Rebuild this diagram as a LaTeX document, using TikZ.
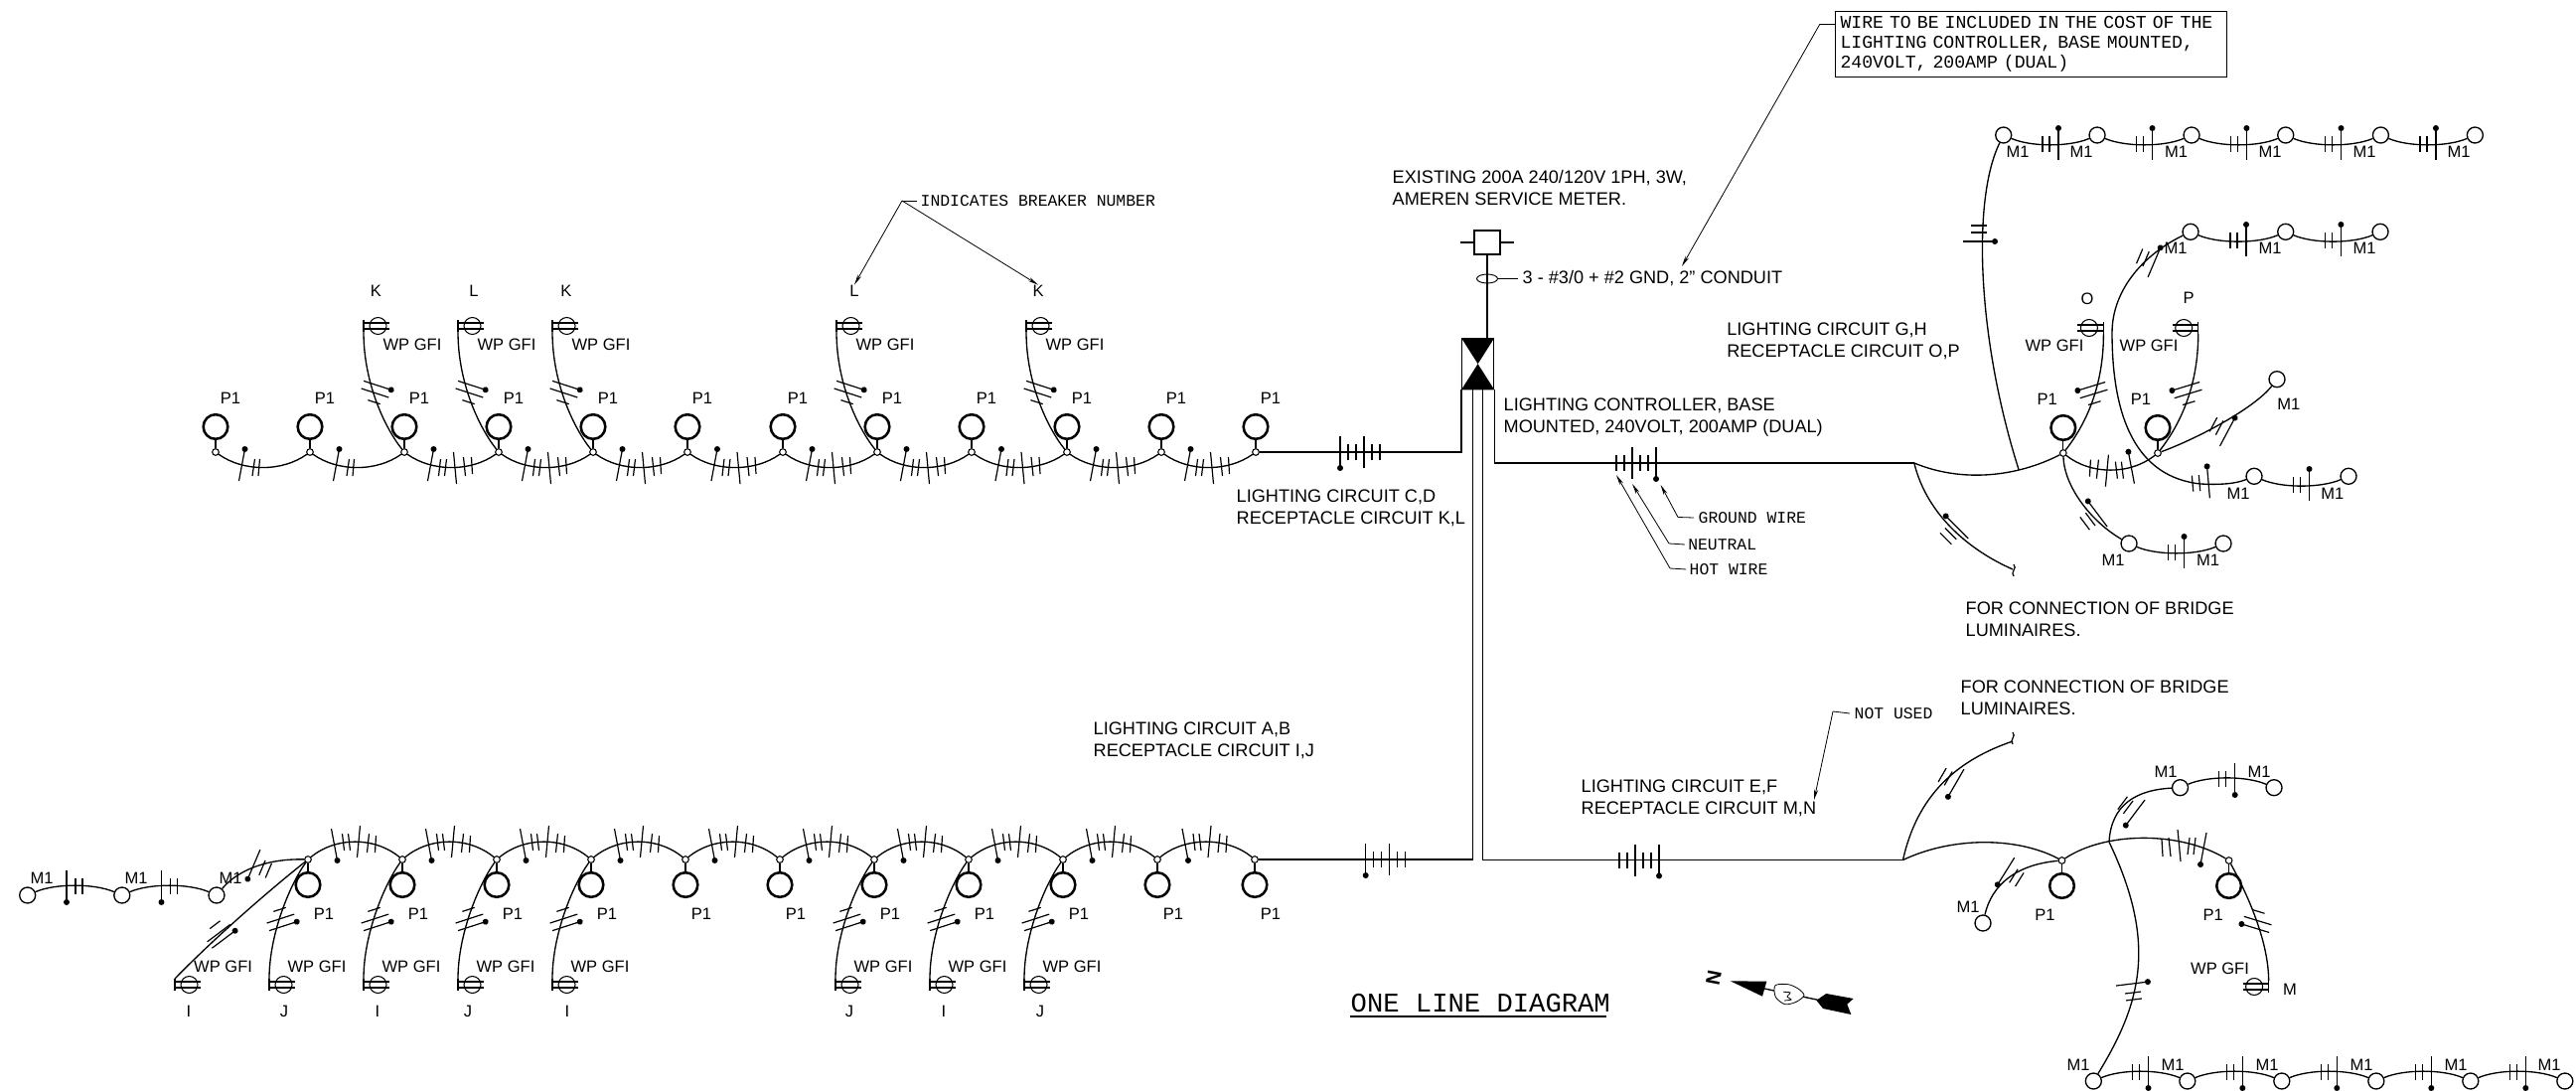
\documentclass[tikz,border=0pt]{standalone}
\usepackage{fontspec}
\setmainfont{Liberation Sans}
\setmonofont{Liberation Mono}
\usetikzlibrary{arrows.meta,shapes.geometric}

\tikzset{every picture/.style={line width=1pt},
  every pic/.style={yscale=-1},
  jct/.style={circle,draw,fill=white,inner sep=0pt,minimum size=5pt,line width=.8pt},
  bulb/.style={circle,draw,inner sep=0pt,minimum size=18.5pt,line width=1.9pt},
  lamp/.style={circle,draw,inner sep=0pt,minimum size=12pt},
  rcp/.style={circle,draw,inner sep=0pt,minimum size=12.75pt,line width=.8pt},
  lbl/.style={inner sep=0pt,align=left,font=\fontsize{12.4}{16.5}\selectfont},
  lbw/.style={inner sep=0pt,align=left,anchor=west,font=\fontsize{13.6}{16.5}\selectfont},
  cad/.style={inner sep=0pt,align=left,font=\ttfamily\fontsize{12.3}{15}\selectfont},
  barb/.style={line width=.9pt},
  ptr/.style={-{Stealth[length=8pt,width=3pt]},line width=.6pt},
  dip/.style={to path={.. controls +(28,#1) and +(-28,#1) .. (\tikztotarget)}},
  branchup/.style={to path={.. controls +(-20,-25) and +(0,51) .. (\tikztotarget)}},
  branchdown/.style={to path={.. controls +(-18,25) and +(0,-45) .. (\tikztotarget)}},
  poleup/.pic={
    \node[jct] (-j) at (0,0) {};
    \node[bulb] (-c) at (0,-25.5) {};
    \draw (-j) -- (-c);
    \node[lbl] (-t) at (#1,-54) {P1};
  },
  poledown/.pic={
    \node[jct] (-j) at (0,0) {};
    \node[bulb] (-c) at (0,25.5) {};
    \draw (-j) -- (-c);
    \node[lbl] (-t) at (#1,55) {P1};
  },
  recep/.pic={
    \coordinate (-n) at (0,-6);
    \coordinate (-s) at (0,6);
    \node[rcp] (-c) at (14.5,0) {};
    \draw[barb] (-n) -- (-s);
    \draw[barb] (0,-3) -- (26,-3);
    \draw[barb] (0,3) -- (26,3);
  },
  wireleft/.pic={
    \draw[barb] (-18,-18) -- (-24,14);
    \fill (-18,-18) circle (3);
    \draw[barb] (-8,-8) -- (-10.5,9);
    \draw[barb] (-3,-8) -- (-4.5,9);
  },
  wirefour/.pic={
    \draw[barb] (-18,-18) -- (-24,14);
    \fill (-18,-18) circle (3);
    \draw[barb] (-11,-8) -- (-13,9);
    \draw[barb] (-5,-8) -- (-7,9);
    \draw[barb] (2,-15) -- (5,17);
    \draw[barb] (12,-10) -- (14,9);
    \draw[barb] (20,-10) -- (21,7);
  },
  wireflat/.pic={
    \draw[barb] (-20,-16) -- (-20,16);
    \fill (-20,16) circle (3);
    \draw[barb] (-12,-8) -- (-12,8);
    \draw[barb] (-4,-8) -- (-4,8);
    \draw[barb] (4,-16) -- (4,16);
    \draw[barb] (12,-8) -- (12,8);
    \draw[barb] (20,-8) -- (20,8);
  },
  wiretwo/.pic={
    \draw[barb] (8,-16) -- (8,16);
    \fill (8,-16) circle (3);
    \draw[barb] (-8,-8) -- (-8,8);
    \draw[barb] (-1,-8) -- (-1,8);
  },
  wirebranch/.pic={
    \draw[barb] (-13,-8) -- (16,-8);
    \fill (16,-8) circle (3);
    \draw[barb] (-13,0) -- (16,0);
    \draw[barb] (-3,9) -- (10,9);
  },
  wireend/.pic={
    \draw[barb] (0,-6) .. controls (4,-2) and (-4,2) .. (0,6);
  }
}

\begin{document}
\begin{tikzpicture}[x=0.75pt,y=0.75pt,yscale=-1,xscale=1]
\useasboundingbox (0,0) rectangle (2593,1098);

%Service and controller
\node[draw,inner sep=0pt,minimum width=19.5pt,minimum height=18pt,line width=.8pt] (meter) at (1497,244) {};
\draw[barb] (meter.west) -- +(-13,0);
\draw[barb] (meter.east) -- +(13,0);
\node[ellipse,draw,inner sep=0pt,minimum width=15.75pt,minimum height=6.75pt,line width=.7pt] (cond) at (1497,280.5) {};
\node[draw,inner sep=0pt,minimum width=24pt,minimum height=38.25pt] (ctrl) at (1487.6,366.2) {};
\fill (ctrl.north west) -- (ctrl.north east) -- (ctrl.center) -- cycle;
\fill (ctrl.south west) -- (ctrl.south east) -- (ctrl.center) -- cycle;
\draw (meter.south) -- (meter.south |- ctrl.north);
\coordinate (vl) at (1482.3,391.7);
\coordinate (vr) at (1492.7,391.7);

%Top row
\pic (t1) at (217,455) {poleup=15};
\pic (t2) at (312,455) {poleup=15};
\pic (t3) at (407,455) {poleup=15};
\pic (t4) at (502,455) {poleup=15};
\pic (t5) at (597,455) {poleup=15};
\pic (t6) at (692,455) {poleup=15};
\pic (t7) at (788,455) {poleup=15};
\pic (t8) at (883,455) {poleup=15};
\pic (t9) at (978,455) {poleup=15};
\pic (t10) at (1074,455) {poleup=15};
\pic (t11) at (1169,455) {poleup=15};
\pic (t12) at (1264,455) {poleup=15};
\draw (t1-j) to[dip=20] (t2-j);
\draw (t2-j) to[dip=20] (t3-j);
\draw (t3-j) to[dip=20] (t4-j);
\draw (t4-j) to[dip=20] (t5-j);
\draw (t5-j) to[dip=20] (t6-j);
\draw (t6-j) to[dip=20] (t7-j);
\draw (t7-j) to[dip=20] (t8-j);
\draw (t8-j) to[dip=20] (t9-j);
\draw (t9-j) to[dip=20] (t10-j);
\draw (t10-j) to[dip=20] (t11-j);
\draw (t11-j) to[dip=20] (t12-j);
\pic at (264.5,470) {wireleft};
\pic at (359.5,470) {wireleft};
\pic at (454.5,470) {wirefour};
\pic at (549.5,470) {wirefour};
\pic at (644.5,470) {wirefour};
\pic at (740,470) {wirefour};
\pic at (835.5,470) {wirefour};
\pic at (930.5,470) {wirefour};
\pic at (1026,470) {wirefour};
\pic at (1121.5,470) {wirefour};
\pic at (1216.5,470) {wirefour};
\draw (t12-j) -- (ctrl.west |- t12-j) -- (ctrl.south west);
\pic at (1369,455) {wireflat};

%Top row receptacles
\pic (k1) at (366,328) {recep};
\pic (l1) at (461,328) {recep};
\pic (k2) at (556,328) {recep};
\pic (l2) at (842,328) {recep};
\pic (k3) at (1033,328) {recep};
\draw (t3-j) to[branchup] (k1-s);
\draw (t4-j) to[branchup] (l1-s);
\draw (t5-j) to[branchup] (k2-s);
\draw (t8-j) to[branchup] (l2-s);
\draw (t10-j) to[branchup] (k3-s);
\pic[rotate=-18] at (376,395) {wirebranch};
\pic[rotate=-18] at (471,395) {wirebranch};
\pic[rotate=-18] at (566,395) {wirebranch};
\pic[rotate=-18] at (852,395) {wirebranch};
\pic[rotate=-18] at (1043,395) {wirebranch};
% Text Node
\node[lbl] (k1t) at (378.5,293) {K};
\node[lbl] (l1t) at (477,293) {L};
\node[lbl] (k2t) at (570,293) {K};
\node[lbl] (l2t) at (860,293) {L};
\node[lbl] (k3t) at (1045,293) {K};
\node[lbl] (k1w) at (415,347) {WP GFI};
\node[lbl] (l1w) at (510,347) {WP GFI};
\node[lbl] (k2w) at (605,347) {WP GFI};
\node[lbl] (l2w) at (891,347) {WP GFI};
\node[lbl] (k3w) at (1082,347) {WP GFI};

%Bottom row
\pic (b1) at (310,865) {poledown=16};
\pic (b2) at (405,865) {poledown=16};
\pic (b3) at (500,865) {poledown=16};
\pic (b4) at (595,865) {poledown=16};
\pic (b5) at (690,865) {poledown=16};
\pic (b6) at (785,865) {poledown=16};
\pic (b7) at (880,865) {poledown=16};
\pic (b8) at (975,865) {poledown=16};
\pic (b9) at (1070,865) {poledown=16};
\pic (b10) at (1165,865) {poledown=16};
\pic (b11) at (1263,865) {poledown=16};
\draw (b1-j) to[dip=-23] (b2-j);
\draw (b2-j) to[dip=-23] (b3-j);
\draw (b3-j) to[dip=-23] (b4-j);
\draw (b4-j) to[dip=-23] (b5-j);
\draw (b5-j) to[dip=-23] (b6-j);
\draw (b6-j) to[dip=-23] (b7-j);
\draw (b7-j) to[dip=-23] (b8-j);
\draw (b8-j) to[dip=-23] (b9-j);
\draw (b9-j) to[dip=-23] (b10-j);
\draw (b10-j) to[dip=-23] (b11-j);
\pic[yscale=-1] at (357.5,848) {wirefour};
\pic[yscale=-1] at (452.5,848) {wirefour};
\pic[yscale=-1] at (547.5,848) {wirefour};
\pic[yscale=-1] at (642.5,848) {wirefour};
\pic[yscale=-1] at (737.5,848) {wirefour};
\pic[yscale=-1] at (832.5,848) {wirefour};
\pic[yscale=-1] at (927.5,848) {wirefour};
\pic[yscale=-1] at (1022.5,848) {wirefour};
\pic[yscale=-1] at (1117.5,848) {wirefour};
\pic[yscale=-1] at (1214,848) {wirefour};
\draw (vl) -- (vl |- b11-j) -- (b11-j);
\pic at (1394.7,865) {wireflat};

%Left chain
\node[lamp] (a1) at (27.7,901) {};
\node[lamp] (a2) at (122.8,901) {};
\node[lamp] (a3) at (218,901) {};
\draw (a1) to[dip=-12] (a2);
\draw (a2) to[dip=-12] (a3);
\draw (a3) .. controls (240,875) and (270,864) .. (b1-j);
\pic[rotate=180] at (75,892) {wiretwo};
\pic[rotate=180] at (170.5,892) {wiretwo};
\pic[rotate=157] at (263,873) {wiretwo};
\node[lbl] (a1t) at (42,884) {M1};
\node[lbl] (a2t) at (137,884) {M1};
\node[lbl] (a3t) at (232,884) {M1};

%Bottom row receptacles
\pic (i1) at (176,991) {recep};
\pic (j1) at (271,991) {recep};
\pic (i2) at (366,991) {recep};
\pic (j2) at (461,991) {recep};
\pic (i3) at (556,991) {recep};
\pic (j3) at (841,991) {recep};
\pic (i4) at (936,991) {recep};
\pic (j4) at (1031,991) {recep};
\draw (b1-j) .. controls (260,905) and (210,950) .. (i1-n);
\draw (b1-j) to[branchdown] (j1-n);
\draw (b2-j) to[branchdown] (i2-n);
\draw (b3-j) to[branchdown] (j2-n);
\draw (b4-j) to[branchdown] (i3-n);
\draw (b7-j) to[branchdown] (j3-n);
\draw (b8-j) to[branchdown] (i4-n);
\draw (b9-j) to[branchdown] (j4-n);
\pic[rotate=37,yscale=-1] at (219,940) {wirebranch};
\pic[rotate=18,yscale=-1] at (281,925) {wirebranch};
\pic[rotate=18,yscale=-1] at (376,925) {wirebranch};
\pic[rotate=18,yscale=-1] at (471,925) {wirebranch};
\pic[rotate=18,yscale=-1] at (566,925) {wirebranch};
\pic[rotate=18,yscale=-1] at (851,925) {wirebranch};
\pic[rotate=18,yscale=-1] at (946,925) {wirebranch};
\pic[rotate=18,yscale=-1] at (1041,925) {wirebranch};
% Text Node
\node[lbl] (i1t) at (190,1018) {I};
\node[lbl] (j1t) at (286,1018) {J};
\node[lbl] (i2t) at (380,1018) {I};
\node[lbl] (j2t) at (471,1018) {J};
\node[lbl] (i3t) at (571,1018) {I};
\node[lbl] (j3t) at (855,1018) {J};
\node[lbl] (i4t) at (950,1018) {I};
\node[lbl] (j4t) at (1047,1018) {J};
\node[lbl] (i1w) at (224.6,973) {WP GFI};
\node[lbl] (j1w) at (319,973) {WP GFI};
\node[lbl] (i2w) at (414,973) {WP GFI};
\node[lbl] (j2w) at (509,973) {WP GFI};
\node[lbl] (i3w) at (604,973) {WP GFI};
\node[lbl] (j3w) at (889,973) {WP GFI};
\node[lbl] (i4w) at (984,973) {WP GFI};
\node[lbl] (j4w) at (1079,973) {WP GFI};

%Upper right group
\coordinate (fa) at (1926.8,466);
\coordinate (fc) at (2032,472.6);
\coordinate (fd) at (2026,573);
\pic (g1) at (2076.8,456) {poleup=-16};
\pic (g2) at (2172,456) {poleup=-17};
\draw (ctrl.south east) -- (ctrl.south east |- fa) -- (fa);
\pic[xscale=-1] at (1647,466) {wireflat};
\draw (fa) .. controls (1975,486) and (2030,480) .. (g1-j);
\draw (g1-j) to[dip=22] (g2-j);
\pic[xscale=-1] at (2124.4,472.7) {wirefour};
\draw (fa) .. controls (1940,520) and (1985,555) .. (fd);
\pic at (2027,574) {wireend};
\pic[rotate=45] at (1964.3,536.4) {wiretwo};
% chain along the top
\node[lamp] (c1) at (2016.7,136) {};
\node[lamp] (c2) at (2111,136) {};
\node[lamp] (c3) at (2206,136) {};
\node[lamp] (c4) at (2300.7,136) {};
\node[lamp] (c5) at (2396.4,136) {};
\node[lamp] (c6) at (2491.3,136) {};
\draw (c1) to[dip=12] (c2);
\draw (c2) to[dip=12] (c3);
\draw (c3) to[dip=12] (c4);
\draw (c4) to[dip=12] (c5);
\draw (c5) to[dip=12] (c6);
\pic at (2064,145) {wiretwo};
\pic at (2158.5,145) {wiretwo};
\pic at (2253.4,145) {wiretwo};
\pic at (2348.5,145) {wiretwo};
\pic at (2443.9,145) {wiretwo};
\draw (c1) .. controls (1985,200) and (1990,340) .. (fc);
\pic[rotate=-90] at (1992,235) {wiretwo};
\node[lbl] (c1t) at (2031,153) {M1};
\node[lbl] (c2t) at (2095,153) {M1};
\node[lbl] (c3t) at (2190.5,153) {M1};
\node[lbl] (c4t) at (2285,153) {M1};
\node[lbl] (c5t) at (2380,153) {M1};
\node[lbl] (c6t) at (2475,153) {M1};
% second chain and the bow below it
\node[lamp] (n1) at (2205,233.3) {};
\node[lamp] (n2) at (2300.7,233.3) {};
\node[lamp] (n3) at (2396,233.3) {};
\node[lamp] (n4) at (2269,479.3) {};
\node[lamp] (n5) at (2364,479.3) {};
\node[lamp] (n6) at (2292,381.7) {};
\node[lamp] (n7) at (2143,547) {};
\node[lamp] (n8) at (2238,547) {};
\coordinate (bowa) at (2126,335);
\coordinate (bowb) at (2215,487);
\draw (n1) to[dip=12] (n2);
\draw (n2) to[dip=12] (n3);
\draw (n4) to[dip=12] (n5);
\draw (n7) to[dip=12] (n8);
\draw (n1) .. controls (2160,255) and (2126,290) .. (bowa) .. controls (2126,420) and (2150,480) .. (bowb) .. controls (2235,488) and (2250,487) .. (n4);
\draw (g2-j) .. controls (2215,440) and (2270,410) .. (n6);
\draw (g1-j) .. controls (2078,490) and (2105,525) .. (n7);
\pic at (2253,242) {wiretwo};
\pic at (2348.4,242) {wiretwo};
\pic at (2316.5,488) {wiretwo};
\pic at (2190.5,556) {wiretwo};
\pic[rotate=-23] at (2161,261) {wiretwo};
\pic[rotate=5] at (2215,486) {wiretwo};
\pic[rotate=-28] at (2235,431) {wiretwo};
\pic[rotate=37] at (2105,522) {wiretwo};
\node[lbl] (n1t) at (2190,250) {M1};
\node[lbl] (n2t) at (2285,250) {M1};
\node[lbl] (n3t) at (2380,250) {M1};
\node[lbl] (n4t) at (2253,496.7) {M1};
\node[lbl] (n5t) at (2347.8,496.7) {M1};
\node[lbl] (n6t) at (2303.7,407) {M1};
\node[lbl] (n7t) at (2127,564) {M1};
\node[lbl] (n8t) at (2222.6,564) {M1};
% receptacles O and P
\pic[xscale=-1] (r1) at (2117.4,330) {recep};
\pic[xscale=-1] (r2) at (2212.7,330) {recep};
\draw (g1-j) .. controls (2105,420) and (2117.4,380) .. (r1-s);
\draw (g2-j) .. controls (2200,420) and (2212.7,380) .. (r2-s);
\pic[rotate=17,xscale=-1] at (2109,396) {wirebranch};
\pic[rotate=17,xscale=-1] at (2204,396) {wirebranch};
\node[lbl] (r1t) at (2101,301) {O};
\node[lbl] (r2t) at (2203,300) {P};
\node[lbl] (r1w) at (2068,348) {WP GFI};
\node[lbl] (r2w) at (2163,348) {WP GFI};

%Lower right group
\coordinate (fb) at (1915.5,865.5);
\coordinate (hc) at (2123,847.4);
\coordinate (he) at (2026,746);
\pic (h1) at (2075.5,866) {poledown=-17};
\pic (h2) at (2243.6,866) {poledown=-16};
\draw (vr) -- (vr |- fb) -- (fb);
\pic[xscale=-1] at (1650,865.5) {wireflat};
\draw (fb) .. controls (1965,842) and (2030,842) .. (h1-j);
\draw (h1-j) .. controls (2120,836.5) and (2195,836.5) .. (h2-j);
\pic[rotate=180] at (2197,852) {wirefour};
\draw (fb) .. controls (1930,800) and (1970,765) .. (he);
\pic at (2026,743) {wireend};
\pic[rotate=-30,yscale=-1] at (1962,784) {wiretwo};
\node[lamp] (q1) at (1996,929) {};
\node[lamp] (q2) at (2194.5,792.7) {};
\node[lamp] (q3) at (2289,792.7) {};
\draw (h1-j) .. controls (2030,870) and (2005,890) .. (q1);
\draw (hc) .. controls (2125,810) and (2150,795) .. (q2);
\draw (q2) to[dip=-12] (q3);
\pic[rotate=148] at (2026,881) {wiretwo};
\pic[rotate=-37,yscale=-1] at (2143,813) {wiretwo};
\pic[yscale=-1] at (2241.7,784) {wiretwo};
\node[lbl] (q1t) at (1981,913) {M1};
\node[lbl] (q2t) at (2180,776.7) {M1};
\node[lbl] (q3t) at (2274,776.7) {M1};
% chain along the bottom
\node[lamp] (e1) at (2107.3,1088) {};
\node[lamp] (e2) at (2201.8,1088) {};
\node[lamp] (e3) at (2296.8,1088) {};
\node[lamp] (e4) at (2391.8,1088) {};
\node[lamp] (e5) at (2486.8,1088) {};
\node[lamp] (e6) at (2581.8,1088) {};
\draw (e1) to[dip=-12] (e2);
\draw (e2) to[dip=-12] (e3);
\draw (e3) to[dip=-12] (e4);
\draw (e4) to[dip=-12] (e5);
\draw (e5) to[dip=-12] (e6);
\pic[yscale=-1] at (2154.5,1079) {wiretwo};
\pic[yscale=-1] at (2249.3,1079) {wiretwo};
\pic[yscale=-1] at (2344.3,1079) {wiretwo};
\pic[yscale=-1] at (2439.3,1079) {wiretwo};
\pic[yscale=-1] at (2534.3,1079) {wiretwo};
\draw (hc) .. controls (2172,950) and (2155,1010) .. (e1);
\pic[rotate=97,yscale=-1] at (2147,998) {wiretwo};
\node[lbl] (e1t) at (2092,1072) {M1};
\node[lbl] (e2t) at (2187,1072) {M1};
\node[lbl] (e3t) at (2282,1072) {M1};
\node[lbl] (e4t) at (2377,1072) {M1};
\node[lbl] (e5t) at (2472,1072) {M1};
\node[lbl] (e6t) at (2566,1072) {M1};
% receptacle M
\pic[xscale=-1] (rm) at (2283.6,993) {recep};
\draw (h2-j) .. controls (2265,905) and (2283.6,950) .. (rm-n);
\pic[rotate=163] at (2274,927) {wirebranch};
\node[lbl] (rmt) at (2305,996) {M};
\node[lbl] (rmw) at (2234.5,975) {WP GFI};

% Text Node
\node[lbw] (svc) at (1401,189) {EXISTING 200A 240/120V 1PH, 3W,\\AMEREN SERVICE METER.};
% Text Node
\node[lbw] (wire) at (1532,280.5) {3 - \#3/0 + \#2 GND, 2" CONDUIT};
% Text Node
\node[lbw] (cgh) at (1737.6,343) {LIGHTING CIRCUIT G,H\\RECEPTACLE CIRCUIT O,P};
% Text Node
\node[lbw] (ctl) at (1513,419.6) {LIGHTING CONTROLLER, BASE\\MOUNTED, 240VOLT, 200AMP (DUAL)};
% Text Node
\node[lbw] (ccd) at (1244,511) {LIGHTING CIRCUIT C,D\\RECEPTACLE CIRCUIT K,L};
% Text Node
\node[lbw] (cab) at (1100,745.7) {LIGHTING CIRCUIT A,B\\RECEPTACLE CIRCUIT I,J};
% Text Node
\node[lbw] (cef) at (1591,803.5) {LIGHTING CIRCUIT E,F\\RECEPTACLE CIRCUIT M,N};
% Text Node
\node[lbw] (bra) at (1978,623.5) {FOR CONNECTION OF BRIDGE\\LUMINAIRES.};
% Text Node
\node[lbw] (brb) at (1973,702.5) {FOR CONNECTION OF BRIDGE\\LUMINAIRES.};
% Text Node
\node[cad,anchor=west] (ibn) at (926,202) {INDICATES BREAKER NUMBER};
% Text Node
\node[cad,anchor=west] (nus) at (1866,718) {NOT USED};
% Text Node
\node[cad,anchor=west] (gnd) at (1709,521) {GROUND WIRE};
% Text Node
\node[cad,anchor=west] (neu) at (1698.6,548) {NEUTRAL};
% Text Node
\node[cad,anchor=west] (hot) at (1700,573) {HOT WIRE};
% Text Node
\node[cad,draw,line width=.8pt,inner sep=4pt,text width=288pt,minimum height=49.6pt,anchor=center,font=\ttfamily\fontsize{13.6}{15}\selectfont] (note) at (2044.5,44.6) {WIRE TO BE INCLUDED IN THE COST OF THE\\LIGHTING CONTROLLER, BASE MOUNTED,\\240VOLT, 200AMP (DUAL)};
% Text Node
\node[inner sep=0pt,font=\ttfamily\fontsize{20.4}{24}\selectfont,anchor=west] (title) at (1359,1010) {ONE LINE DIAGRAM};

%Leaders
\coordinate (nka) at (1847,24);
\coordinate (nkb) at (1832,24);
\coordinate (nkc) at (1693,268);
\draw[line width=.6pt] (nka) -- (nkb);
\draw[ptr] (nkb) -- (nkc);
\draw[line width=.6pt] (cond.east) -- ([xshift=-3pt]wire.west);
\coordinate (ika) at (908,202);
\draw[line width=.6pt] ([xshift=-2pt]ibn.west) -- (ika);
\draw[ptr] (ika) -- (l2t.north);
\draw[ptr] (ika) -- (k3t.north);
\coordinate (usa) at (1845,716);
\coordinate (usb) at (1826,805);
\draw[line width=.6pt] ([xshift=-3pt]nus.west) -- (usa);
\draw[ptr] (usa) -- (usb);
\coordinate (gna) at (1689,520.5);
\coordinate (gnb) at (1671.6,488);
\draw[line width=.6pt] ([xshift=-3pt]gnd.west) -- (gna);
\draw[ptr] (gna) -- (gnb);
\coordinate (nea) at (1680,547);
\coordinate (neb) at (1643,487);
\draw[line width=.6pt] ([xshift=-2pt]neu.west) -- (nea);
\draw[ptr] (nea) -- (neb);
\coordinate (hoa) at (1681,572);
\coordinate (hob) at (1627,478);
\draw[line width=.6pt] ([xshift=-2pt]hot.west) -- (hoa);
\draw[ptr] (hoa) -- (hob);
\coordinate (ula) at (1359,1022.7);
\coordinate (ulb) at (1617,1022.7);
\draw[line width=1.6pt] (ula) -- (ulb);

%North arrow
\node[inner sep=0pt,rotate=79,font=\bfseries\fontsize{15}{15}\selectfont] (north) at (1725,984) {N};
\fill (1741.7,987.3) -- (1778.3,987.7) -- (1774,1002.7) -- cycle;
\draw (1773,994.3) -- (1831.7,1006.7);
\fill (1828.3,1006.7) -- (1838.3,1000) -- (1865.7,1005) -- (1859.3,1010.7) -- (1863.3,1021) -- (1835,1015) -- cycle;
\draw[fill=white,line width=.6pt] plot[smooth cycle] coordinates {(1787,991.7) (1800,990.7) (1810,995) (1816,1001.7) (1808,1008.3) (1796.7,1010.7) (1787.3,1003.3)};
\draw[line width=.6pt] plot[smooth] coordinates {(1795,998.3) (1802,999) (1799,1003) (1803,1006) (1796,1007)};

\end{tikzpicture}
\end{document}
